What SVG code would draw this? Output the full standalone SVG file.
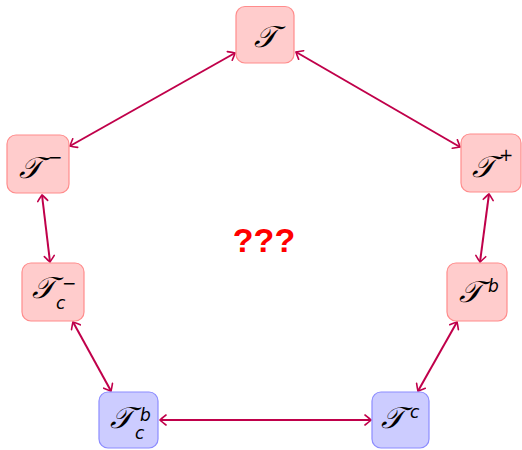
<svg xmlns="http://www.w3.org/2000/svg" width="522" height="450" viewBox="0 0 522 450">
<style>
.r{fill:#ffcccc;stroke:#ff8c8c;stroke-width:1.2}
.b{fill:#ccccff;stroke:#8c8cff;stroke-width:1.2}
.t{font-family:"DejaVu Serif","Noto Sans",serif;font-style:italic;font-size:30px;fill:#000;text-anchor:middle}
.s{font-family:"DejaVu Sans","Noto Sans",sans-serif;font-style:italic;font-size:17px;fill:#000}
.e{stroke:#c0004a;stroke-width:2;fill:none;marker-start:url(#a);marker-end:url(#a)}
</style>
<defs>
<marker id="a" viewBox="-8 -6 10 12" markerWidth="10" markerHeight="12" refX="0" refY="0" orient="auto-start-reverse" markerUnits="userSpaceOnUse">
<path d="M-6,-5 Q-1.5,-1.5 0,0 Q-1.5,1.5 -6,5" fill="none" stroke="#c0004a" stroke-width="1.6" stroke-linecap="round"/>
</marker>
</defs>
<g id="edges">
<line class="e" x1="235" y1="53" x2="70" y2="146"/>
<line class="e" x1="296" y1="52" x2="460" y2="147"/>
<line class="e" x1="42" y1="195" x2="50" y2="262"/>
<line class="e" x1="489" y1="194" x2="480" y2="262"/>
<line class="e" x1="73" y1="322" x2="111" y2="391"/>
<line class="e" x1="457" y1="322" x2="418" y2="391"/>
<line class="e" x1="160" y1="420" x2="371" y2="420"/>
</g>
<g id="T"><rect class="r" x="236" y="6.5" width="58" height="56.5" rx="9"/><text class="t" x="265" y="47">𝒯</text></g>
<g id="Tminus"><rect class="r" x="7" y="135" width="62" height="58" rx="9"/><text class="t" x="30" y="178">𝒯</text><text class="s" x="48" y="163">−</text></g>
<g id="Tplus"><rect class="r" x="461" y="134" width="60" height="58" rx="9"/><text class="t" x="483" y="177">𝒯</text><text class="s" x="499" y="161">+</text></g>
<g id="Tcminus"><rect class="r" x="22" y="263" width="62" height="58" rx="9"/><text class="t" x="43" y="298">𝒯</text><text class="s" x="62" y="289">−</text><text class="s" x="56" y="309">c</text></g>
<g id="Tb"><rect class="r" x="447" y="263" width="60" height="58" rx="9"/><text class="t" x="470" y="302">𝒯</text><text class="s" x="488" y="292">b</text></g>
<g id="Tcb"><rect class="b" x="99" y="392" width="59" height="56" rx="9"/><text class="t" x="121" y="428">𝒯</text><text class="s" x="140" y="421">b</text><text class="s" x="135" y="439">c</text></g>
<g id="Tc"><rect class="b" x="372" y="392" width="57" height="56" rx="9"/><text class="t" x="392" y="428">𝒯</text><text class="s" x="410" y="418">c</text></g>
<text x="264" y="252" text-anchor="middle" font-family="Liberation Sans, sans-serif" font-weight="bold" font-size="34" fill="#ff0000">???</text>
</svg>
